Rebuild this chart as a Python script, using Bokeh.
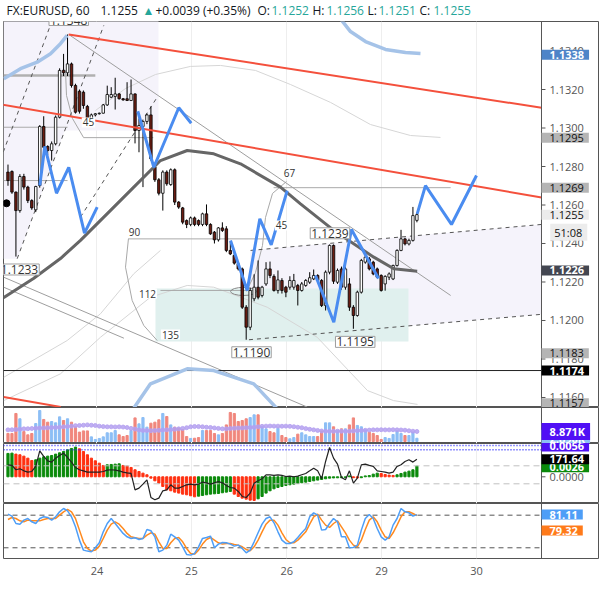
from bokeh.plotting import figure
from bokeh.models import Range1d, FixedTicker, Span, NumeralTickFormatter, ColumnDataSource
from bokeh.layouts import column
from bokeh.embed import file_html
from bokeh.resources import INLINE
from bokeh.core.properties import value

FONT = "Open Sans"

# ---------------- data ----------------
PIP_BASE = 1.1200  # prices below are pips above 1.1200
open_pips = [77.1, 77.4, 66.7, 57.1, 74.8, 69.3, 62.3, 57.5, 70.1, 100.8,
             90.4, 88.3, 91.8, 105.6, 130.0, 128.7, 133.3, 122.1, 119.1, 118.6,
             111.2, 103.0, 106.8, 107.4, 107.7, 112.0, 116.0, 116.4, 117.7, 115.2,
             115.2, 114.3, 117.7, 98.7, 100.8, 103.4, 106.8, 79.7, 73.1, 66.1,
             77.1, 70.6, 78.3, 61.5, 58.5, 51.9, 49.9, 53.3, 51.9, 49.9,
             55.4, 49.9, 45.9, 41.9, 48.1, 47.6, 36.4, 33.8, 29.4, 26.8,
             6.9, -3.5, 11.3, 17.3, 13.0, 19.0, 26.8, 22.9, 15.6, 20.8,
             17.3, 17.3, 17.3, 18.2, 15.6, 18.2, 19.9, 21.6, 23.4, 20.8,
             7.8, 25.1, 39.0, 19.9, 26.8, 17.3, 19.0, 6.9, 2.6, 14.7,
             30.3, 32.0, 30.3, 26.8, 23.4, 19.0, 22.5, 21.6, 28.6, 36.4,
             42.4, 39.8, 41.6, 52.0]
high_pips = [81.0, 78.0, 67.0, 76.0, 76.2, 70.0, 63.0, 70.0, 101.5, 106.1,
             91.0, 93.0, 106.5, 131.0, 138.5, 148.6, 134.0, 123.0, 120.0, 119.5,
             112.0, 107.5, 107.8, 108.0, 112.5, 122.0, 121.2, 126.1, 118.2, 115.6,
             123.8, 125.2, 118.0, 105.0, 104.0, 107.5, 111.2, 82.0, 74.0, 78.0,
             78.0, 79.0, 79.0, 62.0, 59.0, 52.5, 54.0, 54.0, 52.5, 56.0,
             60.3, 50.5, 46.5, 48.5, 51.0, 49.0, 41.0, 35.0, 30.0, 27.5,
             8.0, 17.0, 24.0, 31.2, 18.0, 30.3, 30.6, 24.0, 26.0, 22.0,
             18.0, 23.0, 24.2, 19.0, 20.0, 21.5, 25.1, 26.5, 24.0, 21.5,
             26.0, 39.5, 39.5, 27.0, 28.0, 28.0, 22.0, 8.0, 15.5, 32.0,
             34.0, 33.0, 31.0, 27.5, 24.0, 23.5, 25.0, 29.0, 37.0, 47.1,
             43.0, 42.5, 59.0, 56.0]
low_pips = [70.0, 65.8, 33.2, 56.0, 68.0, 61.0, 57.5, 56.3, 69.0, 88.0,
            86.0, 83.1, 91.0, 105.0, 127.0, 127.0, 121.0, 107.5, 107.5, 110.0,
            101.8, 102.5, 106.0, 107.0, 107.5, 111.5, 115.5, 109.6, 114.8, 114.2,
            114.0, 114.0, 92.0, 87.4, 69.3, 102.0, 83.0, 72.0, 65.0, 57.1,
            70.0, 70.0, 60.0, 58.0, 50.0, 48.0, 49.0, 49.0, 49.0, 49.0,
            49.0, 44.5, 40.0, 41.0, 46.0, 35.5, 34.0, 29.0, 26.0, 6.0,
            -10.0, -5.0, 10.0, 11.0, 12.0, 18.0, 22.0, 15.0, 14.0, 14.0,
            12.1, 16.0, 16.0, 7.8, 15.0, 17.5, 19.0, 21.0, 20.0, 7.0,
            5.2, 24.0, 19.0, 19.0, 16.0, 16.0, 5.0, -4.3, 2.0, 14.0,
            29.5, 26.0, 23.5, 22.0, 15.0, 15.5, 21.0, 21.0, 28.0, 36.0,
            39.0, 39.0, 41.0, 51.0]
close_pips = [72.7, 66.7, 57.1, 74.8, 69.3, 62.3, 58.5, 69.6, 100.8, 90.0,
              88.3, 91.8, 105.6, 129.9, 128.7, 133.3, 122.1, 108.2, 108.7, 111.7,
              102.2, 106.8, 107.4, 107.7, 112.0, 117.4, 117.4, 117.7, 115.2, 114.6,
              114.3, 117.7, 98.7, 101.3, 103.4, 106.8, 84.0, 73.1, 66.1, 77.1,
              71.0, 78.3, 61.5, 58.9, 51.1, 49.9, 53.3, 49.9, 49.9, 55.4,
              49.9, 45.0, 41.9, 48.1, 46.8, 36.4, 34.6, 29.8, 26.8, 6.9,
              -3.5, 15.6, 17.3, 12.1, 17.3, 26.8, 23.4, 15.6, 21.1, 15.6,
              14.7, 20.8, 20.8, 15.6, 19.0, 20.8, 22.2, 23.4, 20.8, 7.8,
              25.1, 39.0, 20.4, 26.0, 17.3, 26.8, 6.9, 2.6, 14.7, 31.2,
              32.9, 26.8, 24.2, 22.5, 15.6, 22.9, 24.2, 28.6, 36.4, 42.4,
              39.8, 41.6, 54.5, 55.0]

volume_k = [7.1, 7.1, 24.8, 20.1, 8.8, 5.9, 7.1, 15.9, 27.4, 19.5,
            17.1, 17.7, 16.5, 21.8, 18.6, 20.1, 17.1, 13.0, 8.3, 9.4,
            9.4, 4.1, 1.8, 2.7, 4.1, 7.7, 7.7, 9.7, 5.9, 4.4,
            5.3, 9.7, 20.9, 15.6, 21.2, 12.7, 16.2, 17.1, 19.2, 24.8,
            22.1, 14.7, 12.7, 11.8, 10.6, 4.4, 2.7, 2.9, 3.5, 9.7,
            9.7, 9.7, 7.1, 5.9, 7.1, 14.7, 25.7, 24.8, 17.7, 18.6,
            20.1, 21.2, 23.6, 23.6, 13.0, 11.2, 8.8, 7.7, 11.8, 5.3,
            3.5, 2.4, 3.5, 6.5, 7.7, 5.9, 4.4, 4.4, 4.4, 9.4,
            16.5, 16.5, 13.0, 9.7, 11.2, 11.2, 14.7, 20.9, 14.2, 13.0,
            10.3, 8.3, 7.1, 5.3, 1.8, 3.5, 2.7, 6.2, 9.4, 7.1,
            5.3, 5.3, 8.3, 2.89]
volume_ma_k = [10.3, 10.4, 10.6, 10.9, 11.2, 11.3, 11.5, 11.8, 11.9, 12.0,
               12.1, 12.3, 12.4, 12.6, 13.0, 13.3, 13.6, 14.0, 14.2, 14.4,
               14.7, 14.4, 14.2, 13.6, 13.2, 13.0, 13.0, 12.9, 13.0, 12.8,
               12.4, 11.6, 11.0, 10.2, 9.8, 9.7, 9.6, 9.7, 9.9, 10.2,
               10.3, 10.5, 10.9, 11.2, 11.6, 12.2, 13.0, 13.3, 13.2, 13.0,
               12.6, 12.4, 12.0, 11.6, 11.2, 11.2, 11.5, 11.8, 11.9, 12.0,
               12.2, 12.4, 12.6, 13.0, 13.4, 13.6, 13.7, 13.6, 13.6, 13.5,
               13.6, 13.4, 13.1, 12.6, 12.2, 11.4, 10.8, 10.3, 9.8, 9.3,
               9.1, 9.0, 9.0, 9.1, 9.1, 9.0, 9.1, 9.3, 9.6, 9.7,
               9.9, 10.1, 10.3, 10.3, 10.4, 10.3, 10.3, 10.4, 10.3, 10.2,
               10.0, 9.5, 9.1, 8.871]

macd_hist_e4 = [5.70, 5.77, 5.53, 5.37, 5.04, 4.55, 3.98, 4.15, 4.55, 4.88,
                5.04, 5.20, 5.53, 5.85, 6.18, 6.59, 6.91, 7.24, 6.83, 6.18,
                5.37, 4.55, 3.90, 3.33, 2.76, 2.93, 3.01, 3.09, 3.17, 2.76,
                2.60, 2.28, 1.71, 1.30, 0.89, 0.49, -0.33, -0.98, -1.54, -2.36,
                -3.17, -3.41, -3.74, -3.98, -4.23, -4.39, -4.63, -4.88, -4.72, -4.55,
                -4.39, -4.23, -4.15, -4.07, -3.90, -3.74, -3.58, -4.23, -4.80, -5.20,
                -5.45, -5.69, -5.77, -5.37, -4.80, -3.98, -3.41, -2.93, -2.60, -2.36,
                -2.11, -1.95, -1.79, -1.63, -1.46, -1.30, -1.14, -0.98, -0.81, -0.65,
                -0.49, -0.33, -0.28, -0.25, -0.22, -0.20, 0.22, -0.22, -0.28, -0.22,
                0.22, 0.30, 0.65, 0.89, 0.81, 0.57, 0.41, 0.33, 0.49, 0.81,
                1.14, 1.38, 1.71, 2.60]
cci = [111, 104, 56, 67, 44, 30, 37, 93, 266, 204,
       155, 141, 185, 215, 241, 192, 141, 81, 56, 44,
       30, 30, 30, 30, 37, 52, 56, 52, 44, 30,
       22, 15, -167, -148, -104, -56, -252, -278, -259, -178,
       -167, -111, -148, -148, -130, -111, -104, -111, -104, -81,
       -89, -104, -89, -74, -89, -118, -141, -148, -185, -241,
       -252, -204, -93, -67, -44, 0, 0, -7, 0, -7,
       -19, -15, -22, -15, 0, 15, 44, 74, 44, -44,
       148, 303, 185, 118, -30, -56, 44, -93, -37, 111,
       118, 104, 93, 44, 37, 30, 19, 30, 93, 111,
       148, 167, 141, 171.64]
stoch_k = [81.9, 78.2, 64.7, 63.5, 70.9, 73.9, 67.8, 64.7, 73.9, 77.0,
           75.8, 70.9, 77.0, 86.2, 92.3, 88.0, 77.0, 58.6, 34.1, 15.7,
           13.9, 12.7, 20.0, 29.2, 49.4, 64.7, 73.9, 64.7, 55.5, 46.4,
           40.2, 37.2, 38.4, 35.3, 37.2, 53.7, 51.3, 40.2, 12.7, 15.7,
           24.9, 45.1, 40.2, 34.1, 21.8, 7.8, 6.5, 9.6, 21.8, 37.2,
           39.0, 41.5, 20.0, 26.8, 29.8, 29.2, 26.8, 23.1, 24.9, 18.8,
           10.8, 15.7, 31.0, 47.6, 63.5, 73.9, 77.0, 66.0, 49.4, 34.1,
           28.0, 28.0, 31.0, 39.0, 47.6, 55.5, 77.0, 84.3, 80.1, 52.5,
           53.7, 64.7, 73.9, 67.8, 40.2, 40.2, 20.0, 20.6, 24.9, 52.5,
           73.9, 81.3, 73.9, 55.5, 40.2, 34.1, 40.2, 61.7, 73.9, 92.3,
           86.2, 84.3, 78.2, 81.11]
stoch_d = [72.1, 75.8, 73.9, 69.6, 67.8, 70.9, 69.6, 69.6, 69.6, 72.1,
           73.9, 73.9, 73.9, 80.1, 86.2, 90.5, 86.2, 73.9, 52.5, 31.0,
           18.8, 13.9, 15.7, 23.1, 37.2, 52.5, 63.5, 67.8, 63.5, 55.5,
           46.4, 40.2, 38.4, 37.2, 37.2, 43.3, 47.6, 45.1, 31.0, 18.8,
           18.8, 29.2, 37.2, 39.0, 31.0, 18.8, 9.6, 8.4, 15.7, 26.8,
           35.3, 39.0, 34.1, 29.2, 26.8, 28.0, 28.0, 26.1, 24.9, 21.8,
           16.9, 14.5, 21.8, 34.1, 49.4, 63.5, 70.9, 70.9, 61.7, 47.6,
           35.3, 29.2, 29.2, 34.1, 41.5, 49.4, 63.5, 77.0, 81.9, 70.9,
           61.7, 57.4, 64.7, 69.6, 58.6, 47.6, 34.1, 24.9, 21.8, 34.1,
           53.7, 70.9, 77.0, 67.8, 52.5, 40.2, 37.2, 47.6, 61.7, 77.0,
           86.2, 86.2, 83.1, 79.32]

day_ticks = [22.4, 46.2, 70.2, 94.1, 118.0]
day_labels = ["24", "25", "26", "29", "30"]
price_ticks = [1.1160, 1.1180, 1.1200, 1.1220, 1.1240, 1.1260, 1.1280, 1.1300, 1.1320, 1.1340]

header_text = ["FX:EURUSD, 60", "1.1255", "\u25b2", "+0.0039 (+0.35%)", "O:", "1.1252",
               "H:", "1.1256", "L:", "1.1251", "C:", "1.1255"]
header_color = ["#131722", "#131722", "#26a69a", "#131722", "#131722", "#26a69a",
                "#131722", "#26a69a", "#131722", "#26a69a", "#131722", "#26a69a"]
header_x = [3, 97, 139, 152, 254, 268, 309, 323, 364, 375, 416, 430]

# drawings (bar index, price)
red_upper_x, red_upper_y = [15.3, 134.4], [1.13486, 1.13105]
red_lower_x, red_lower_y = [-1.5, 134.4], [1.13122, 1.12639]
red_bottom_x, red_bottom_y = [-1.1, 13.3], [1.11602, 1.11551]
hline_x0 = [-1.1, 19.0, -1.1, 30.4, 66.9, 38.4]
hline_x1 = [15.0, 36.6, 15.0, 65.4, 111.5, 61.8]
hline_y = [1.13004, 1.12950, 1.12727, 1.12424, 1.12690, 1.12156]
thick_hline = (-1.1, 22.0, 1.13273)
diag_x0 = [15.3, -1.1, -1.1]
diag_y0 = [1.13486, 1.12225, 1.12173]
diag_x1 = [111.5, 75.4, 29.2]
diag_y1 = [1.12130, 1.11550, 1.11908]
dash_x0 = [2.32, -1.89, 18.26, 61.1, 60.7]
dash_y0 = [1.12321, 1.12836, 1.12537, 1.12364, 1.11900]
dash_x1 = [24.13, 11.13, 37.58, 134.4, 134.4]
dash_y1 = [1.13533, 1.13559, 1.13160, 1.12499, 1.12032]
lav_left_x = [-1.13, 37.91, 37.91, 14.31, 2.32, -1.13]
lav_left_y = [1.1360, 1.1360, 1.12987, 1.12987, 1.12321, 1.12321]
lav_chan_x = [61.1, 134.4, 134.4, 60.7]
lav_chan_y = [1.12364, 1.12499, 1.12032, 1.11900]
teal_box = (37.15, 100.88, 1.11891, 1.12166)
zig_x = [[8.01, 9.27, 12.22, 15.31, 19.27, 22.47],
         [32.70, 36.73, 43.02, 46.15],
         [56.05, 60.25, 63.43, 66.30, 70.33],
         [77.46, 82.07, 86.52, 93.32],
         [103.07, 105.16, 111.71, 118.01]]
zig_y = [[1.12701, 1.12904, 1.12661, 1.12796, 1.12454, 1.12589],
         [1.13087, 1.12796, 1.13105, 1.13025],
         [1.12416, 1.12156, 1.12528, 1.12393, 1.12675],
         [1.12234, 1.11991, 1.12473, 1.12218],
         [1.12554, 1.12701, 1.12499, 1.12753]]
ma_x = [-1.13, 6.42, 13.22, 18.26, 24.13, 31.69, 38.41, 45.14, 51.84, 58.56, 68.64, 73.68, 82.07, 92.14, 97.18, 103.07]
ma_y = [1.12118, 1.12218, 1.12322, 1.12416, 1.12537, 1.12693, 1.12831, 1.12883, 1.12866, 1.12814, 1.12693, 1.12606, 1.12468, 1.12329, 1.12269, 1.12256]
lb_x = [[-1.06, 3.15, 7.35, 10.71, 13.22, 14.91],
        [82.5, 86.27, 90.05, 95.09, 100.13, 103.90],
        [30.2, 35.89, 45.14, 51.84, 61.91, 69.7]]
lb_y = [[1.13256, 1.13308, 1.13342, 1.13386, 1.13438, 1.13481],
        [1.13600, 1.13501, 1.13449, 1.13408, 1.13392, 1.13387],
        [1.11500, 1.11671, 1.11749, 1.11740, 1.11671, 1.11500]]
gc_x = [[22.04, 29.60, 37.15, 45.97, 53.53, 62.34, 71.16, 81.23, 91.31, 101.39, 108.94],
        [-1.06, 14.91, 23.30, 31.69, 38.41],
        [-1.06, 13.22, 23.30, 35.89, 45.14, 51.84, 65.29, 77.88, 90.55, 97.10, 103.15]]
gc_y = [[1.13091, 1.13205, 1.13278, 1.13320, 1.13325, 1.13299, 1.13226, 1.13133, 1.13018, 1.12961, 1.12951],
        [1.11705, 1.11896, 1.12035, 1.12243, 1.12364],
        [1.11584, 1.11723, 1.11913, 1.12121, 1.12182, 1.12173, 1.12069, 1.11913, 1.11636, 1.11584, 1.11564]]
arc_x = [[30.35, 29.60, 31.28, 34.21, 37.58],
         [70.15, 66.63, 64.86, 64.11, 62.34, 60.07],
         [19.02, 16.25, 14.74, 14.48]]
arc_y = [[1.12426, 1.12277, 1.12104, 1.11974, 1.11896],
         [1.12722, 1.12660, 1.12535, 1.12390, 1.12249, 1.12151],
         [1.12951, 1.13049, 1.13169, 1.13299]]
box_x = [15.3, 2.9, 81.1, 61.34, 87.46]
box_y = [1.13561, 1.12265, 1.12453, 1.11835, 1.11889]
box_text = ["1.1348", "1.1233", "1.1239", "1.1190", "1.1195"]
num_x = [20.28, 31.86, 35.14, 40.93, 70.91, 68.89]
num_y = [1.13029, 1.12462, 1.12140, 1.11927, 1.12764, 1.12494]
num_text = ["45", "90", "112", "135", "67", "45"]
dot_x, dot_y = [-0.38], [1.12609]
tag_values = [1.1338, 1.1295, 1.1269, 1.1255, 1.1226, 1.1183, 1.1174, 1.1157]
tag_bg = ["#4e84c8", "#b5b5b5", "#b5b5b5", "#ececec", "#434651", "#b5b5b5", "#000000", "#b5b5b5"]
tag_fg = ["white", "#111111", "#111111", "#111111", "white", "#111111", "white", "#111111"]
countdown = (1.12459, "51:08")
support_line = 1.1174

# ---------------- derived ----------------
opens = [PIP_BASE + v / 10000 for v in open_pips]
highs = [PIP_BASE + v / 10000 for v in high_pips]
lows = [PIP_BASE + v / 10000 for v in low_pips]
closes = [PIP_BASE + v / 10000 for v in close_pips]
idx = list(range(len(opens)))
up = [c >= o for o, c in zip(opens, closes)]

FW = 595            # frame: page x 3 .. 598 (price scale column inside frame)
X0 = -1.13          # bar index at left frame edge
AXIS_X = 134.38     # bar index where the price-scale column begins (page x 541)
xr = Range1d(X0, 148.74)
TICK_W = 1.0        # tick mark length in bars (~4 px)


def base_fig(h, yr, bottom=0, xaxis=False, yaxis=False):
    p = figure(frame_width=FW, frame_height=h, x_range=xr, y_range=yr, title=None,
               output_backend="svg", toolbar_location=None,
               y_axis_location="right" if yaxis else None,
               x_axis_location="below" if xaxis else None,
               min_border_left=3, min_border_right=4, min_border_top=0,
               min_border_bottom=bottom)
    p.outline_line_color = "#555555"
    p.background_fill_color = "white"
    p.border_fill_color = "white"
    p.ygrid.visible = False
    p.xgrid.ticker = FixedTicker(ticks=day_ticks)
    p.xgrid.grid_line_color = "#eeeeee"
    p.add_layout(Span(location=AXIS_X, dimension="height", line_color="#555555", line_width=1))
    for ax in p.yaxis:
        ax.axis_line_color = None
        ax.major_tick_line_color = None
        ax.major_tick_in = 0
        ax.major_tick_out = 0
        ax.minor_tick_line_color = None
        ax.major_label_text_font = FONT
        ax.major_label_text_font_size = "11px"
        ax.major_label_text_color = "#555555"
        ax.major_label_standoff = -49
    return p


def tags(fig, ys, texts, bgs, fgs, bold, xoff=0.0, rname="default", padl=8, yoff=0):
    kw = {} if rname == "default" else {"y_range_name": rname}
    fig.text(x=[AXIS_X + xoff] * len(ys), y=ys, text=texts, text_font=value(FONT),
             text_font_size="11px", text_color=fgs,
             text_font_style="bold" if bold else "normal",
             text_align="left", text_baseline="middle", y_offset=yoff,
             background_fill_color=bgs,
             padding=dict(left=padl, right=5, top=1, bottom=1), level="overlay", **kw)


# ---------------- header ----------------
ph = figure(frame_width=602, frame_height=21, x_range=Range1d(0, 602), y_range=Range1d(0, 21),
            title=None, output_backend="svg", toolbar_location=None,
            x_axis_location=None, y_axis_location=None,
            min_border_left=0, min_border_right=0, min_border_top=0, min_border_bottom=0)
ph.outline_line_color = None
ph.xgrid.visible = False
ph.ygrid.visible = False
ph.text(x=header_x, y=[11] * len(header_x),
        text=header_text, text_color=header_color, text_font=value(FONT),
        text_font_size="12px", text_baseline="middle", text_align="left")

# ---------------- main pane ----------------
p1 = base_fig(386, Range1d(1.11548, 1.135533), yaxis=True)
p1.yaxis.ticker = FixedTicker(ticks=price_ticks)
p1.yaxis.formatter = NumeralTickFormatter(format="0.0000")

p1.patch(lav_left_x, lav_left_y, fill_color="#f5f3fb", line_color=None)
p1.patch(lav_chan_x, lav_chan_y, fill_color="#f5f3fb", line_color=None)
p1.quad(left=teal_box[0], right=teal_box[1], bottom=teal_box[2], top=teal_box[3],
        fill_color="#e0f0ee", line_color=None)
p1.multi_line(gc_x, gc_y, line_color="#d6d6d6", line_width=1)
p1.multi_line(arc_x, arc_y, line_color="#a8a8a8", line_width=1)
p1.segment(hline_x0, hline_y, hline_x1, hline_y, line_color="#aaaaaa", line_width=1)
p1.segment([thick_hline[0]], [thick_hline[2]], [thick_hline[1]], [thick_hline[2]],
           line_color="#b0b0b0", line_width=2.5)
p1.segment(diag_x0, diag_y0, diag_x1, diag_y1, line_color="#9e9e9e", line_width=1)
p1.segment(dash_x0, dash_y0, dash_x1, dash_y1, line_color="#555555", line_width=1, line_dash="4 4")
p1.ellipse(x=[59.32], y=[1.12151], width=6.5, height=0.00042, fill_color=None,
           line_color="#888888", line_width=1)
p1.segment([X0], [support_line], [AXIS_X], [support_line], line_color="#222222", line_width=1)

src = ColumnDataSource(dict(
    x=idx, h=highs, l=lows,
    top=[max(o, c) for o, c in zip(opens, closes)],
    bot=[min(o, c) for o, c in zip(opens, closes)],
    col=["#ffffff" if u else "#6b1d12" for u in up]))
p1.segment(x0="x", y0="l", x1="x", y1="h", source=src, line_color="#000000", line_width=1)
p1.vbar(x="x", width=0.62, top="top", bottom="bot", fill_color="col",
        line_color="#000000", line_width=0.8, source=src)

p1.line(ma_x, ma_y, line_color="#666666", line_width=3)
p1.multi_line(lb_x, lb_y, line_color="#a5c3e8", line_width=3.5)
p1.line(red_upper_x, red_upper_y, line_color="#f4503c", line_width=2)
p1.line(red_lower_x, red_lower_y, line_color="#f4503c", line_width=2)
p1.line(red_bottom_x, red_bottom_y, line_color="#f4503c", line_width=2)
p1.multi_line(zig_x, zig_y, line_color="#4a8cf0", line_width=3)
p1.scatter(dot_x, dot_y, size=7, color="#000000")

p1.text(x=box_x, y=box_y, text=box_text, text_font=value(FONT), text_font_size="12px",
        text_color="#333333", text_align="center", text_baseline="middle",
        background_fill_color="white", border_line_color="#9e9e9e", padding=1)
p1.text(x=num_x, y=num_y, text=num_text, text_font=value(FONT), text_font_size="10px",
        text_color="#333333", text_align="center", text_baseline="middle",
        background_fill_color="white", padding=1)

# price-scale tick marks
p1.segment([AXIS_X] * len(price_ticks), price_ticks, [AXIS_X + TICK_W] * len(price_ticks),
           price_ticks, line_color="#555555", line_width=1)

fmt = ["%.4f" % v for v in tag_values]
bold_i = [i for i, f in enumerate(tag_fg) if f == "white"]
norm_i = [i for i, f in enumerate(tag_fg) if f != "white"]
tags(p1, [tag_values[i] for i in norm_i], [fmt[i] for i in norm_i],
     [tag_bg[i] for i in norm_i], [tag_fg[i] for i in norm_i], False)
tags(p1, [countdown[0]], [countdown[1]], ["#ececec"], ["#111111"], False, xoff=2.2, padl=4)
tags(p1, [tag_values[i] for i in bold_i], [fmt[i] for i in bold_i],
     [tag_bg[i] for i in bold_i], [tag_fg[i] for i in bold_i], True)

# ---------------- volume pane ----------------
p2 = base_fig(36, Range1d(-1.77, 30.09))
p2.vbar(x=idx, top=volume_k, bottom=0, width=0.55,
        color=["#8cbef5" if u else "#f0877d" for u in up])
p2.scatter(idx, volume_ma_k, size=4, color="#b4a0f0", alpha=0.85)
tags(p2, [volume_k[-1]], ["2.890K"], ["#8cbef5"], ["white"], True)
tags(p2, [volume_ma_k[-1]], ["8.871K"], ["#5010f5"], ["white"], True)

# ---------------- MACD / CCI pane ----------------
p3 = base_fig(60, Range1d(-6.51, 8.12), yaxis=True)
p3.extra_y_ranges = {"cci": Range1d(-318.9, 347.8)}
p3.yaxis.ticker = FixedTicker(ticks=[0])
p3.yaxis.major_label_overrides = {0: "0.0000"}
p3.segment([AXIS_X], [0], [AXIS_X + TICK_W], [0], line_color="#555555", line_width=1)
hist_col = []
for i, hv in enumerate(macd_hist_e4):
    hist_col.append("#0b8a0b" if i == 0 or hv >= macd_hist_e4[i - 1] else "#ff3010")
p3.vbar(x=idx, top=macd_hist_e4, bottom=0, width=0.55, color=hist_col)
p3.segment([X0, X0], [100, -100], [AXIS_X, AXIS_X], [100, -100], y_range_name="cci",
           line_color="#c0c0c0", line_dash="6 4", line_width=1)
p3.segment([X0, X0], [7.63, 6.59], [AXIS_X, AXIS_X], [7.63, 6.59],
           line_color="#2a2aff", line_dash="1 2", line_width=1.3)
p3.line(idx, cci, y_range_name="cci", line_color="#222222", line_width=1.2)
tags(p3, [7.39], ["0.0056"], ["#5010f5"], ["white"], True)
tags(p3, [macd_hist_e4[-1]], ["0.0026"], ["#0b8a0b"], ["white"], True, yoff=1)
tags(p3, [cci[-1]], ["171.64"], ["#000000"], ["white"], True, rname="cci")

# ---------------- Stochastic pane ----------------
p4 = base_fig(55, Range1d(0.3, 101.5), bottom=27, xaxis=True)
p4.segment([X0, X0], [80, 20], [AXIS_X, AXIS_X], [80, 20], line_color="#555555",
           line_dash="5 4", line_width=1)
p4.line(idx, stoch_d, line_color="#ff8a1f", line_width=1.5)
p4.line(idx, stoch_k, line_color="#4e9ef7", line_width=1.5)
tags(p4, [stoch_k[-1]], ["81.11"], ["#4e9ef7"], ["white"], True)
tags(p4, [stoch_d[-1]], ["79.32"], ["#ff7a1a"], ["white"], True, yoff=15)
xa = p4.xaxis[0]
xa.ticker = FixedTicker(ticks=day_ticks)
xa.major_label_overrides = {t: l for t, l in zip(day_ticks, day_labels)}
xa.axis_line_color = None
xa.major_tick_line_color = None
xa.minor_tick_line_color = None
xa.major_tick_out = 0
xa.major_label_standoff = 8
xa.major_label_text_font = FONT
xa.major_label_text_font_size = "11px"
xa.major_label_text_color = "#555555"

layout = column(ph, p1, p2, p3, p4)
open("out.html", "w").write(file_html(layout, INLINE))
